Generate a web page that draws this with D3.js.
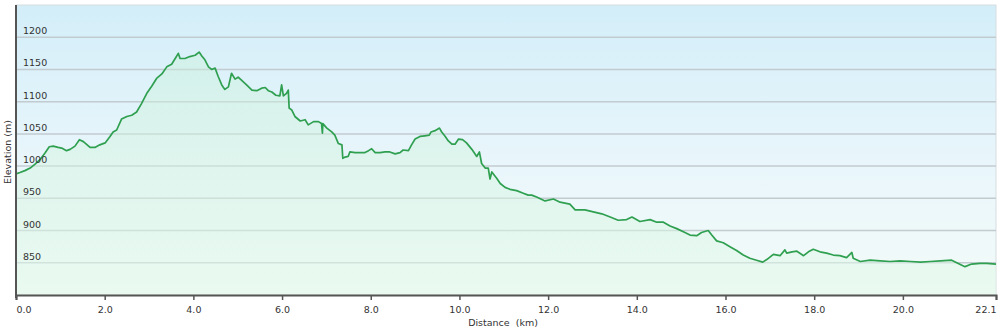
<!DOCTYPE html>
<html>
<head>
<meta charset="utf-8">
<script src="https://cdn.jsdelivr.net/npm/d3@7"></script>
<style>
    body { margin: 0; background: #fff; }
    text { font-family: "DejaVu Sans", Verdana, sans-serif; fill: #333; }
</style>
</head>
<body>
<div id="graphContainer"></div>
<script>
var distanceKm = [0.00, 0.09, 0.20, 0.32, 0.43, 0.54, 0.65, 0.75, 0.84, 0.95, 1.03, 1.14, 1.22, 1.33, 1.43, 1.52,
    1.67, 1.78, 1.89, 2.01, 2.12, 2.19, 2.27, 2.38, 2.50, 2.61, 2.72, 2.83, 2.95, 3.06, 3.17, 3.29, 3.40, 3.51,
    3.59, 3.66, 3.70, 3.81, 3.92, 4.04, 4.13, 4.19, 4.26, 4.34, 4.41, 4.49, 4.56, 4.64, 4.71, 4.79, 4.86, 4.94,
    5.01, 5.09, 5.20, 5.32, 5.43, 5.54, 5.62, 5.69, 5.77, 5.86, 5.95, 5.99, 6.03, 6.10, 6.14, 6.16, 6.22, 6.29,
    6.41, 6.52, 6.59, 6.71, 6.82, 6.89, 6.91, 6.92, 7.01, 7.12, 7.19, 7.27, 7.35, 7.37, 7.42, 7.49, 7.53, 7.65,
    7.76, 7.87, 7.95, 8.02, 8.10, 8.21, 8.32, 8.43, 8.55, 8.66, 8.73, 8.85, 8.92, 9.00, 9.11, 9.22, 9.32, 9.36,
    9.45, 9.55, 9.60, 9.68, 9.75, 9.83, 9.90, 9.98, 10.07, 10.16, 10.28, 10.39, 10.45, 10.50, 10.58, 10.65,
    10.69, 10.73, 10.84, 10.92, 11.03, 11.14, 11.29, 11.44, 11.55, 11.63, 11.74, 11.93, 12.12, 12.27, 12.49,
    12.61, 12.83, 13.02, 13.21, 13.40, 13.58, 13.77, 13.89, 14.07, 14.30, 14.45, 14.60, 14.75, 14.90, 15.05,
    15.20, 15.35, 15.46, 15.61, 15.69, 15.80, 15.95, 16.10, 16.25, 16.40, 16.55, 16.70, 16.84, 16.93, 17.08,
    17.23, 17.34, 17.38, 17.50, 17.61, 17.76, 17.87, 17.98, 18.13, 18.28, 18.43, 18.58, 18.73, 18.85, 18.88,
    19.04, 19.26, 19.49, 19.71, 19.94, 20.17, 20.40, 20.62, 20.85, 21.10, 21.25, 21.40, 21.55, 21.74, 21.89,
    22.10];

var elevationM = [988, 990, 993, 997, 1003, 1010, 1020, 1030, 1031, 1029, 1028, 1024, 1026, 1031, 1041, 1038,
    1029, 1029, 1033, 1036, 1046, 1053, 1056, 1073, 1077, 1079, 1084, 1097, 1113, 1124, 1136, 1143, 1154, 1158,
    1167, 1175, 1167, 1167, 1170, 1172, 1177, 1171, 1165, 1154, 1150, 1152, 1139, 1126, 1119, 1123, 1144, 1135,
    1138, 1133, 1126, 1118, 1117, 1121, 1122, 1117, 1115, 1110, 1109, 1126, 1109, 1113, 1118, 1090, 1087, 1077,
    1070, 1072, 1064, 1069, 1069, 1066, 1051, 1066, 1059, 1053, 1048, 1035, 1033, 1012, 1014, 1015, 1022, 1021,
    1021, 1021, 1024, 1027, 1021, 1021, 1022, 1022, 1019, 1021, 1025, 1024, 1033, 1042, 1046, 1047, 1048, 1053,
    1055, 1059, 1053, 1046, 1039, 1034, 1034, 1042, 1041, 1036, 1026, 1015, 1022, 1004, 997, 997,
    980, 991, 981, 973, 967, 964, 962, 958, 955, 955, 952, 946, 949, 944, 941,
    932, 932, 929, 926, 921, 916, 917, 921, 914, 917, 913, 913, 907, 903, 898,
    893, 892, 897, 900, 893, 884, 881, 875, 869, 862, 857, 854, 851, 855, 863,
    861, 870, 865, 867, 868, 861, 867, 871, 867, 865, 862, 861, 858, 866, 857,
    852, 854, 853, 852, 853, 852, 851, 852, 853, 854, 849, 844, 848, 849, 849,
    848];

var elevationTicks = [850, 900, 950, 1000, 1050, 1100, 1150, 1200];
var distanceTicks = [0, 2, 4, 6, 8, 10, 12, 14, 16, 18, 20, 22.1];

var profile = distanceKm.map(function (d, i) {
    return {km: d, ele: elevationM[i]};
});

var width = 1000,
    height = 330,
    margin = {top: 5, left: 16, bottom: 35, right: 4};

var svg = d3.select("#graphContainer").append("svg")
    .attr("width", width)
    .attr("height", height);

var x = d3.scaleLinear().domain([0, 22.1]).range([margin.left, width - margin.right]);
var y = d3.scaleLinear().domain([800, 1250]).range([height - margin.bottom, margin.top]);

//background gradients
var defs = svg.append("defs");

var bg = defs.append("linearGradient").attr("id", "bgGrad")
    .attr("x1", 0).attr("y1", 0).attr("x2", 0).attr("y2", 1);
bg.append("stop").attr("offset", "0%").attr("stop-color", "#d3eef9");
bg.append("stop").attr("offset", "55%").attr("stop-color", "#e9f6fb");
bg.append("stop").attr("offset", "100%").attr("stop-color", "#f3fbf8");

var areaGrad = defs.append("linearGradient").attr("id", "areaGrad")
    .attr("x1", 0).attr("y1", 0).attr("x2", 0).attr("y2", 1);
areaGrad.append("stop").attr("offset", "0%").attr("stop-color", "#c8f0d6").attr("stop-opacity", 0.4);
areaGrad.append("stop").attr("offset", "100%").attr("stop-color", "#e2f9ea").attr("stop-opacity", 0.55);

svg.append("rect")
    .attr("x", x(0))
    .attr("y", y(1250))
    .attr("width", x(22.1) - x(0))
    .attr("height", y(800) - y(1250))
    .attr("fill", "url(#bgGrad)")
    .attr("stroke", "#d6dde0")
    .attr("stroke-width", 1);

//horizontal grid lines
svg.append("g").attr("class", "grid")
    .selectAll("line")
    .data(elevationTicks)
    .enter().append("line")
    .attr("x1", x(0))
    .attr("x2", x(22.1))
    .attr("y1", function (d) { return y(d); })
    .attr("y2", function (d) { return y(d); })
    .attr("stroke", "#c2cbd0")
    .attr("stroke-width", 1.5);

//area under the profile
var area = d3.area()
    .x(function (d) { return x(d.km); })
    .y0(y(800))
    .y1(function (d) { return y(d.ele); });

svg.append("path")
    .datum(profile)
    .attr("d", area)
    .attr("fill", "url(#areaGrad)");

var line = d3.line()
    .x(function (d) { return x(d.km); })
    .y(function (d) { return y(d.ele); });

svg.append("path")
    .datum(profile)
    .attr("d", line)
    .attr("fill", "none")
    .attr("stroke", "#2f9f50")
    .attr("stroke-width", 1.7)
    .attr("stroke-linejoin", "round");

//elevation labels sit inside the plot just above each grid line
svg.append("g").attr("class", "ylabels")
    .selectAll("text")
    .data(elevationTicks)
    .enter().append("text")
    .attr("x", x(0) + 7)
    .attr("y", function (d) { return y(d) - 3; })
    .attr("font-size", "9.5px")
    .text(function (d) { return d; });

//axes
var xAxis = d3.axisBottom(x)
    .tickValues(distanceTicks)
    .tickSize(5)
    .tickFormat(d3.format(".1f"));

var gx = svg.append("g")
    .attr("transform", "translate(0," + y(800) + ")")
    .call(xAxis);

gx.select(".domain").attr("stroke", "#555").attr("stroke-width", 2);
gx.selectAll(".tick line").attr("stroke", "#555").attr("stroke-width", 1.5);
gx.selectAll(".tick text")
    .attr("font-family", "DejaVu Sans, Verdana, sans-serif")
    .attr("font-size", "9.5px")
    .attr("fill", "#333")
    .attr("dy", "1.05em")
    .attr("text-anchor", function (d, i) {
        if (i === 0) return "start";
        if (i === distanceTicks.length - 1) return "end";
        return "middle";
    });

svg.append("line")
    .attr("x1", x(0)).attr("x2", x(0))
    .attr("y1", y(1250)).attr("y2", y(800) + 3)
    .attr("stroke", "#555")
    .attr("stroke-width", 2);

//axis titles
svg.append("text")
    .attr("x", 503)
    .attr("y", 326)
    .attr("text-anchor", "middle")
    .attr("font-size", "9.5px")
    .attr("xml:space", "preserve")
    .text("Distance  (km)");

svg.append("text")
    .attr("transform", "translate(11,152) rotate(-90)")
    .attr("text-anchor", "middle")
    .attr("font-size", "9.5px")
    .text("Elevation (m)");
</script>
</body>
</html>
